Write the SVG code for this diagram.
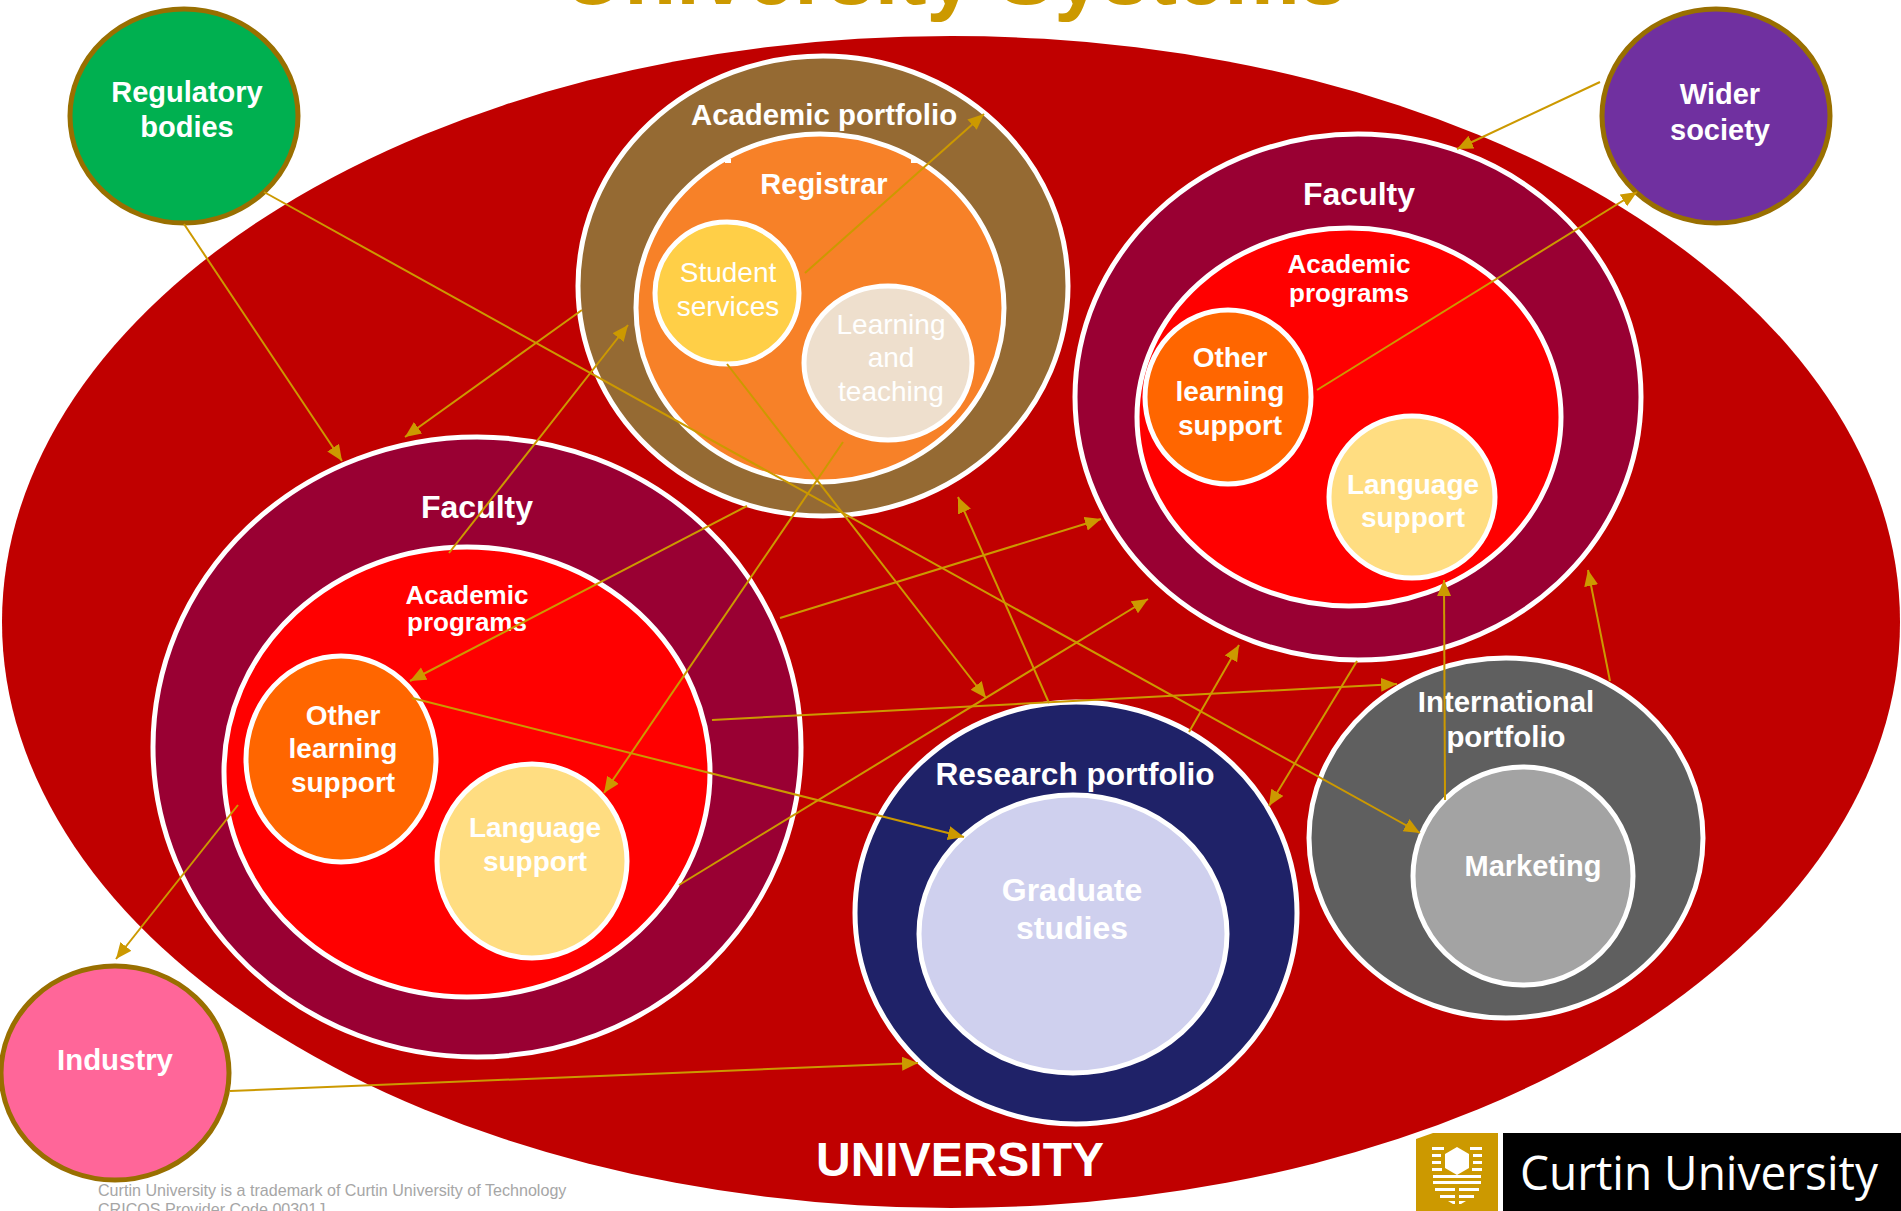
<svg xmlns="http://www.w3.org/2000/svg" width="1901" height="1211" viewBox="0 0 1901 1211">
<style>
text{font-family:"Liberation Sans",Arial,sans-serif;fill:#fff;text-anchor:middle}
.b{font-weight:700;font-size:29px}
.l{font-weight:700;font-size:28px}
.r{font-size:28px}
.s{font-weight:700;font-size:26px}
.w{stroke:#fff;stroke-width:5}
.o{stroke:#996F00;stroke-width:5}
#connectors line{stroke:#CC9900;stroke-width:2;marker-end:url(#arr)}
.st{fill:#fff}
</style>
<defs>
<marker id="arr" markerUnits="userSpaceOnUse" markerWidth="18" markerHeight="16" refX="16" refY="7" orient="auto"><path d="M0 0L16 7L0 14Z" fill="#CC9900"/></marker>
</defs>
<rect width="1901" height="1211" fill="#fff"/>
<text id="title" x="955" y="4" style="font-size:85px;font-weight:700;fill:#CC9900">University Systems</text>
<g id="university"><ellipse cx="951" cy="622" rx="949" ry="586" fill="#C00000"/><text x="960" y="1176" style="font-size:48px;font-weight:700">UNIVERSITY</text></g>
<g id="academic-portfolio"><ellipse cx="823" cy="286" rx="245" ry="230" fill="#956A33" class="w"/><text class="b" style="font-size:29.4px" x="824" y="125">Academic portfolio</text></g>
<g id="registrar"><ellipse cx="820" cy="308" rx="184" ry="174" fill="#F78128" class="w"/><rect x="725" y="159" width="6" height="4" fill="#fff"/><rect x="911" y="159" width="6" height="4" fill="#fff"/><text class="b" x="824" y="194">Registrar</text></g>
<g id="student-services"><ellipse cx="727" cy="293" rx="72" ry="71" fill="#FFCF47" class="w"/><text class="r" x="728" y="282">Student</text><text class="r" x="728" y="316">services</text></g>
<g id="learning-teaching"><ellipse cx="888" cy="363" rx="84" ry="77" fill="#EEDFCD" class="w"/><text class="r" x="891" y="334">Learning</text><text class="r" x="891" y="367">and</text><text class="r" x="891" y="401">teaching</text></g>
<g id="faculty-right"><ellipse cx="1358" cy="397" rx="283" ry="263" fill="#990033" class="w"/><text x="1359" y="205" style="font-size:32px;font-weight:700">Faculty</text></g>
<g id="programs-right"><ellipse cx="1349" cy="417" rx="212" ry="189" fill="#FF0000" class="w"/><text class="s" x="1349" y="273">Academic</text><text class="s" x="1349" y="302">programs</text></g>
<g id="other-right"><ellipse cx="1228" cy="397" rx="83" ry="87" fill="#FF6600" class="w"/><text class="l" x="1230" y="367">Other</text><text class="l" x="1230" y="401">learning</text><text class="l" x="1230" y="435">support</text></g>
<g id="language-right"><ellipse cx="1412" cy="497" rx="83" ry="81" fill="#FFDD81" class="w"/><text class="l" x="1413" y="494">Language</text><text class="l" x="1413" y="527">support</text></g>
<g id="faculty-left"><ellipse cx="477" cy="747" rx="324" ry="310" fill="#990033" class="w"/><text x="477" y="518" style="font-size:32px;font-weight:700">Faculty</text></g>
<g id="programs-left"><ellipse cx="467" cy="772" rx="243" ry="225" fill="#FF0000" class="w"/><text class="s" x="467" y="604">Academic</text><text class="s" x="467" y="631">programs</text></g>
<g id="other-left"><ellipse cx="341" cy="759" rx="95" ry="103" fill="#FF6600" class="w"/><text class="l" x="343" y="725">Other</text><text class="l" x="343" y="758">learning</text><text class="l" x="343" y="792">support</text></g>
<g id="language-left"><ellipse cx="532" cy="861" rx="95" ry="97" fill="#FFDD81" class="w"/><text class="l" x="535" y="837">Language</text><text class="l" x="535" y="871">support</text></g>
<g id="research-portfolio"><ellipse cx="1076" cy="913" rx="221" ry="211" fill="#1F2268" class="w"/><text x="1075" y="785" style="font-size:31.6px;font-weight:700">Research portfolio</text></g>
<g id="graduate-studies"><ellipse cx="1073" cy="934" rx="154" ry="139" fill="#CFD0EE" class="w"/><text x="1072" y="901" style="font-size:32px;font-weight:700">Graduate</text><text x="1072" y="939" style="font-size:32px;font-weight:700">studies</text></g>
<g id="international-portfolio"><ellipse cx="1506" cy="838" rx="197" ry="180" fill="#5F5F5F" class="w"/><text class="b" style="font-size:29.4px" x="1506" y="712">International</text><text class="b" style="font-size:29.4px" x="1506" y="747">portfolio</text></g>
<g id="marketing"><ellipse cx="1523" cy="876" rx="110" ry="109" fill="#A3A3A3" class="w"/><text class="b" x="1533" y="876">Marketing</text></g>
<g id="regulatory-bodies"><ellipse cx="184" cy="116" rx="114" ry="107" fill="#00B050" class="o"/><text class="b" x="187" y="102">Regulatory</text><text class="b" x="187" y="137">bodies</text></g>
<g id="wider-society"><ellipse cx="1716" cy="116" rx="114" ry="107" fill="#7030A0" class="o"/><text class="b" x="1720" y="104">Wider</text><text class="b" x="1720" y="140">society</text></g>
<g id="industry"><ellipse cx="115" cy="1073" rx="114" ry="107" fill="#FF6699" class="o"/><text class="b" style="font-size:29.4px" x="115" y="1070">Industry</text></g>
<g id="connectors">
<line x1="184" y1="224" x2="342" y2="461"/>
<line x1="264" y1="192" x2="1420" y2="833"/>
<line x1="1600" y1="82" x2="1457" y2="149"/>
<line x1="1317" y1="390" x2="1637" y2="192"/>
<line x1="805" y1="273" x2="984" y2="114"/>
<line x1="582" y1="310" x2="405" y2="437"/>
<line x1="449" y1="553" x2="628" y2="325"/>
<line x1="727" y1="364" x2="986" y2="698"/>
<line x1="843" y1="442" x2="604" y2="793"/>
<line x1="747" y1="506" x2="410" y2="681"/>
<line x1="780" y1="618" x2="1101" y2="519"/>
<line x1="712" y1="720" x2="1397" y2="684"/>
<line x1="679" y1="885" x2="1148" y2="599"/>
<line x1="412" y1="698" x2="964" y2="837"/>
<line x1="1049" y1="703" x2="958" y2="497"/>
<line x1="1189" y1="732" x2="1239" y2="645"/>
<line x1="1357" y1="661" x2="1269" y2="806"/>
<line x1="1445" y1="800" x2="1444" y2="580"/>
<line x1="1610" y1="681" x2="1588" y2="570"/>
<line x1="238" y1="805" x2="116" y2="959"/>
<line x1="230" y1="1091" x2="918" y2="1063"/>
</g>
<g id="footer"><text x="98" y="1196" style="font-size:16.1px;fill:#A6A6A6;text-anchor:start">Curtin University is a trademark of Curtin University of Technology</text><text x="98" y="1215" style="font-size:16.1px;fill:#A6A6A6;text-anchor:start">CRICOS Provider Code 00301J</text></g>
<g id="logo">
<path d="M1416 1139L1433 1133H1498V1211H1416Z" fill="#CC9900"/>
<rect x="1503" y="1133" width="398" height="78" fill="#000"/>
<g class="st">
<path d="M1457 1147L1469 1154V1168L1457 1175L1445 1168V1154Z"/>
<rect x="1432" y="1147" width="12" height="3"/><rect x="1470" y="1147" width="12" height="3"/>
<rect x="1432" y="1154" width="9" height="3"/><rect x="1473" y="1154" width="9" height="3"/>
<rect x="1432" y="1161" width="9" height="3"/><rect x="1473" y="1161" width="9" height="3"/>
<rect x="1432" y="1168" width="10" height="3"/><rect x="1472" y="1168" width="10" height="3"/>
<rect x="1433" y="1175" width="48" height="3"/>
<rect x="1433" y="1181" width="48" height="3"/>
<rect x="1435" y="1188" width="20" height="3"/><rect x="1459" y="1188" width="20" height="3"/>
<rect x="1440" y="1195" width="15" height="3"/><rect x="1459" y="1195" width="15" height="3"/>
<path d="M1448 1201H1455V1204H1453ZM1459 1201H1466L1461 1204H1459Z"/>
</g>
<text x="1520" y="1190" textLength="358" lengthAdjust="spacingAndGlyphs" style="font-family:'Open Sans','Noto Sans',sans-serif;font-size:48px;font-weight:400;text-anchor:start">Curtin University</text>
</g>
</svg>
